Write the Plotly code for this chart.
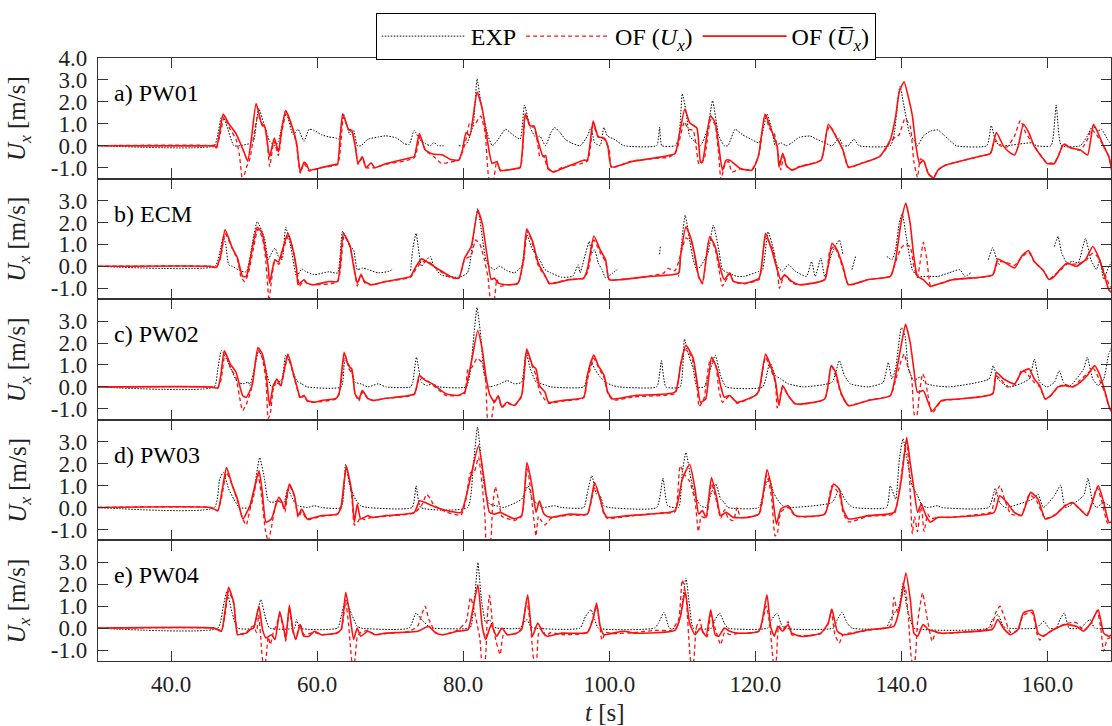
import plotly.graph_objects as go
from plotly.subplots import make_subplots

GAP = None  # break in measured record

# ---------------- panel a) PW01 ----------------
A_EXP = [(30,0),(45.9,0),(46.4,0.5),(46.9,1.3),(47.2,1.3),(48.6,0.0),(49.4,0.0),(50.8,0.1),(51.3,0.2),(52.0,1.7),(52.8,0.9),(53.5,0.2),(54.2,0.0),(54.7,0.2),(55.7,1.6),(56.7,0.5),(57.4,0.75),(58.2,0.2),(58.9,0.75),(59.6,0.7),(60.6,0.5),(61.6,0.4),(62.6,0.35),(63.0,0.3),(63.6,1.45),(64.5,0.5),(65.0,0.7),(65.5,0.0),(66.0,0.0),(67.0,0.3),(68.4,0.4),(69.4,0.45),(70.9,0.35),(71.9,0.1),(72.6,0.05),(73.3,0.7),(74.0,0.3),(74.8,0.1),(75.5,0.0),(76.0,0.15),(76.5,0.0),(77.3,0.0),GAP,(79.4,0.0),(80.2,0.0),(80.65,0.2),(81.4,1.0),(81.9,3.05),(82.4,2.0),(83.35,0.5),(84.0,0.0),(84.8,0.3),(85.8,0.75),(86.8,0.5),(87.8,0.3),(88.4,1.85),(89.2,0.8),(90.0,0.35),(90.5,0.44),(91.27,0.0),(92.02,0.6),(92.52,0.83),(93.27,0.6),(94.02,0.28),(94.77,0.13),(96.01,0.0),(97.01,0.44),(97.51,0.83),(98.01,0.13),(98.76,0.0),(99.26,0.83),(99.76,0.44),(100.76,0.28),(102.0,0.0),(106.5,0.0),(106.75,0.4),(106.9,0.85),(107.2,0.0),(109.0,0.0),(109.5,0.3),(109.75,1.2),(110.0,2.37),(110.5,1.6),(111.0,0.45),(112.0,0.1),(112.5,0.0),(113.5,0.8),(114.15,2.05),(115.0,0.45),(115.75,0.0),(116.25,0.0),(117.24,0.75),(118.24,0.5),(119.49,0.28),(120.49,0.13),(120.99,0.6),(121.6,1.45),(122.24,0.75),(122.74,0.0),(123.5,0.13),(124.24,0.0),(125.0,0.13),(126.0,0.38),(127.5,0.44),(128.5,0.28),(129.5,0.13),(130.5,0.0),(131.5,0.35),(132.0,0.0),(132.7,0.0),(133.5,0.3),(134.2,0.0),(138.5,0.0),(139.0,0.5),(139.8,2.7),(140.5,1.55),(141.2,0.45),(141.7,0.28),(142.2,0.0),(143.0,0.44),(144.0,0.67),(145.0,0.72),(145.7,0.52),(146.5,0.28),(147.5,0.0),(151.7,0.0),(152.3,0.92),(153.0,0.13),(154.0,0.0),(157.9,0.13),(158.5,0.0),(160.5,0.0),(161.2,1.86),(161.9,0.0),(164.5,0.0),(165.45,0.44),(166.2,0.9),(166.9,0.67),(167.4,0.75),(168.2,0.3),(168.8,0.0)]
A_UX = [(30,0),(45.4,0),(46.2,-0.1),(46.7,0.5),(47.3,1.3),(48.0,0.8),(48.9,0.3),(49.35,-0.4),(49.8,-1.6),(50.3,-1.0),(50.8,-0.6),(51.3,0.4),(51.9,1.4),(52.5,1.0),(53.0,0.7),(53.5,-0.95),(54.1,0.2),(54.7,-0.45),(55.2,0.7),(55.8,1.5),(56.7,0.7),(57.2,0.0),(57.7,-1.25),(58.2,-0.8),(58.9,-1.15),(60.6,-1.0),(62.8,-0.85),(63.6,1.3),(64.3,0.75),(64.8,0.6),(65.3,-0.1),(65.6,-0.85),(66.2,-0.55),(66.7,-1.0),(67.9,-1.0),(69.4,-0.85),(73.3,-0.55),(74.1,0.45),(74.8,-0.2),(76.0,-0.5),(77.0,-0.8),(78.2,-0.75),(79.4,-0.65),(79.9,-0.3),(80.4,0.3),(80.9,1.05),(81.4,0.9),(82.4,1.35),(83.0,0.6),(83.6,-1.6),(84.1,-1.6),(84.6,-0.7),(85.1,-1.15),(86.0,-1.1),(87.8,-1.0),(88.5,1.4),(89.2,0.85),(89.7,0.85),(90.2,0.1),(90.5,-0.5),(91.0,-0.45),(91.6,-1.05),(92.3,-1.2),(93.5,-1.0),(97.0,-0.7),(97.8,0.95),(98.5,0.4),(99.3,0.3),(100.0,-0.2),(100.3,-1.0),(103,-0.7),(107.5,-0.55),(108.0,-0.55),(109.0,-0.35),(109.5,0.1),(110.3,1.1),(110.8,0.75),(111.5,0.7),(112.3,-0.85),(113.0,-0.6),(113.9,1.2),(114.5,0.95),(115.0,-0.5),(115.3,-1.55),(115.8,-0.9),(116.3,-0.7),(116.8,-1.2),(118.0,-1.05),(119.5,-1.1),(120.5,-0.4),(121.3,1.4),(122.0,0.75),(122.6,0.55),(123.1,-0.3),(123.5,-1.1),(123.9,-0.4),(124.3,-0.95),(125,-1.1),(126,-0.95),(129,-0.65),(129.7,0.5),(130.2,0.9),(130.8,0.6),(132.0,-0.2),(132.75,-1.0),(134.5,-0.8),(137.0,-0.5),(138.0,-0.1),(138.5,0.2),(139.2,0.4),(139.7,0.5),(140.5,1.25),(141.2,0.9),(141.7,-0.7),(142.2,-1.45),(142.6,-0.6),(143.1,-0.7),(143.7,-1.3),(144.4,-1.45),(145.0,-1.1),(146,-0.9),(150.5,-0.5),(152.2,-0.35),(152.8,0.3),(153.5,0.0),(154.5,-0.05),(155.5,0.45),(156.3,1.15),(157.0,0.6),(158.2,0.0),(159.2,-0.5),(160.0,-0.8),(161.0,-0.75),(161.5,-0.45),(162.2,0.1),(163.2,-0.1),(164.5,-0.2),(165.5,0.3),(166.0,0.75),(166.7,0.5),(167.7,0.0),(168.4,-0.5),(168.8,-1.0)]
A_UXM = [(30,0),(45.4,0),(45.9,0.02),(46.2,-0.1),(46.6,0.5),(47.15,1.44),(47.9,1.0),(48.9,0.55),(50.0,-0.3),(50.5,-0.7),(51.0,0.3),(51.65,1.92),(52.5,0.9),(52.8,0.9),(53.5,-0.5),(54.14,0.35),(54.7,-0.27),(55.1,0.6),(55.7,1.6),(56.7,0.75),(57.2,0.1),(57.7,-1.2),(58.2,-0.75),(58.55,-0.85),(58.9,-1.1),(59.6,-1.08),(60.6,-1.0),(62.6,-0.85),(62.8,-0.85),(63.5,1.45),(64.3,0.75),(64.75,0.7),(65.2,0.0),(65.6,-0.8),(66.2,-0.5),(66.7,-1.0),(67.4,-0.78),(67.9,-1.0),(69.4,-0.82),(72.8,-0.55),(73.3,-0.5),(74.0,0.55),(74.8,-0.18),(75.8,-0.38),(77.2,-0.42),(78.2,-0.62),(79.4,-0.66),(79.9,-0.2),(80.4,0.6),(80.9,0.45),(81.9,2.45),(82.6,1.7),(83.3,0.27),(83.95,-0.8),(84.6,-0.73),(85.1,-1.12),(86.0,-1.12),(87.0,-1.05),(87.8,-1.0),(88.5,1.45),(89.2,0.9),(89.7,0.9),(90.2,0.28),(90.95,-0.5),(91.3,-0.45),(91.6,-1.0),(92.3,-1.2),(93.5,-1.05),(96.5,-0.66),(97.0,-0.66),(97.8,1.12),(98.5,0.4),(99.3,0.35),(99.8,0.0),(100.3,-0.97),(103.0,-0.73),(109.0,-0.36),(109.25,-0.1),(110.35,1.67),(111.0,1.05),(112.0,0.8),(112.5,-0.75),(112.75,-0.75),(113.85,1.36),(114.5,1.05),(115.0,-0.03),(115.5,-1.12),(116.0,-0.66),(116.5,-0.66),(118.0,-1.05),(119.5,-1.12),(120.25,-0.66),(120.5,-0.35),(121.34,1.44),(122.0,0.9),(122.5,0.44),(123.0,-0.03),(123.25,-0.97),(123.75,-0.35),(124.25,-0.9),(125.0,-1.12),(126.0,-0.97),(129.0,-0.66),(130.0,0.98),(131.0,0.44),(132.0,-0.2),(132.75,-0.97),(134.5,-0.81),(137.0,-0.5),(138.0,-0.03),(138.5,0.28),(139.2,1.3),(139.7,2.45),(140.37,2.92),(141.0,2.15),(141.5,1.37),(142.0,-0.03),(142.5,-0.81),(143.0,-0.66),(143.7,-1.28),(144.4,-1.48),(145.0,-1.12),(146.0,-0.89),(150.5,-0.5),(152.2,-0.35),(153.0,0.6),(154.0,-0.03),(155.0,-0.35),(155.5,-0.42),(156.0,-0.03),(156.7,0.98),(157.45,0.6),(158.2,-0.03),(159.2,-0.5),(159.95,-0.81),(160.95,-0.81),(161.45,-0.5),(162.2,0.05),(163.2,-0.1),(164.5,-0.19),(165.5,-0.42),(166.3,0.98),(166.9,0.6),(167.7,-0.03),(168.4,-0.5),(168.8,-1.12)]

# ---------------- panel b) ECM ----------------
B_EXP = [(30,0),(46.0,0),(46.66,0.6),(47.15,1.36),(47.5,0.98),(47.9,0.07),(48.4,0.0),(49.4,-0.2),(50.3,-0.25),(51.3,1.36),(51.8,2.04),(52.8,1.28),(53.3,0.3),(53.75,0.6),(54.24,0.83),(54.7,0.45),(55.2,0.3),(55.7,1.78),(56.4,0.9),(57.2,-0.46),(57.9,-0.12),(58.4,-0.23),(59.6,-0.38),(61.6,-0.25),(62.8,-0.3),(63.5,1.6),(64.5,0.9),(65.0,0.75),(65.5,-0.15),(66.2,-0.08),(67.0,-0.15),(68.4,-0.3),(69.9,-0.22),(70.4,-0.12),GAP,(72.8,-0.2),(73.1,0.8),(73.56,1.5),(74.3,0.0),(75.0,0.3),(75.5,0.45),(76.0,0.0),(77.0,-0.4),(79.4,-0.5),(80.6,-0.3),(81.4,1.36),(82.0,2.64),(82.6,1.36),(83.1,0.3),(83.6,0.0),(84.3,-0.15),(85.0,0.0),(86.0,-0.2),(87.0,-0.3),(88.0,0.0),(88.7,1.45),(89.5,0.75),(90.45,0.3),(91.2,-0.15),(92.0,-0.3),(93.5,-0.5),(95.0,-0.45),(95.76,0.07),(96.0,-0.3),(97.26,1.13),(97.6,0.6),(98.0,0.75),(98.5,0.15),(99.0,-0.15),(99.5,-0.53),(100.5,-0.3),(101.1,-0.15),GAP,(106.9,0.55),(107.0,0.95),GAP,(109.5,-0.46),(110.0,1.36),(110.4,2.33),(111.0,1.2),(111.5,0.3),(112.0,-0.15),(112.5,0.0),(113.5,0.6),(114.25,1.88),(115.0,0.75),(115.5,-0.15),(116.25,-0.3),(117.5,-0.46),(118.5,-0.46),(120.5,-0.23),(121.0,-0.15),(121.74,1.58),(122.5,0.75),(123.0,0.0),(123.74,-0.23),(124.5,0.08),(125.5,-0.23),(127.0,-0.46),(127.7,0.22),(128.2,-0.46),(128.98,0.38),(129.5,-0.46),(130.5,0.6),(131.5,1.2),(131.98,0.55),GAP,(133.23,-0.15),(133.73,0.45),GAP,(138.0,0.45),(138.7,0.3),(139.2,0.75),(139.7,1.96),(140.1,2.42),(140.7,1.28),(141.5,-0.15),(142.2,-0.46),(143.5,-0.46),(145.0,-0.46),(146.5,-0.3),(148.0,-0.15),(148.7,-0.46),(149.5,-0.3),GAP,(151.9,0.3),(152.5,0.85),(153.0,0.38),(153.5,0.0),GAP,(160.95,0.9),(161.45,1.36),(161.95,0.6),(162.7,0.15),(163.45,0.23),(164.2,0.15),(165.2,1.27),(165.95,0.3),(166.7,-0.15),(167.2,0.3),(167.7,-0.6),(168.4,0.0),(168.8,0.2)]
B_UX = [(30,0),(45.4,0),(46.2,-0.05),(46.8,0.4),(47.4,1.5),(48.4,0.8),(49.1,0.3),(49.6,-0.5),(50.1,-0.7),(50.6,-0.3),(51.1,0.5),(51.9,1.7),(52.5,1.3),(52.9,0.5),(53.26,-1.0),(53.4,-1.6),(53.7,-0.8),(54.2,0.2),(54.8,0.1),(55.4,0.8),(56.1,1.4),(56.8,0.6),(57.3,-0.3),(57.6,-0.9),(58.2,-0.65),(58.7,-0.8),(59.6,-0.84),(62.8,-0.7),(63.7,1.4),(64.5,0.9),(65.1,-0.1),(65.5,-0.9),(66.0,-0.35),(66.5,-0.75),(67.4,-0.85),(69.4,-0.7),(72.8,-0.5),(73.4,-0.2),(74.3,0.2),(75.3,0.2),(76.7,-0.2),(78.2,-0.5),(79.4,-0.55),(80.2,0.3),(81.1,0.5),(81.7,1.2),(82.3,1.0),(82.9,0.3),(83.4,-0.5),(83.8,-1.6),(84.2,-1.6),(84.6,-0.6),(85.0,-0.9),(86.0,-0.85),(87.5,-0.8),(88.3,0.3),(88.8,1.6),(89.5,1.0),(90.2,0.1),(90.5,-0.1),(91.3,-0.5),(91.8,-0.8),(92.5,-0.75),(94.5,-0.6),(96.5,-0.55),(97.1,-0.2),(97.9,1.2),(98.8,0.6),(99.5,0.2),(100.0,-0.6),(101.5,-0.6),(105.5,-0.45),(107.5,-0.3),(108.0,-0.1),(109.0,-0.2),(109.5,0.2),(110.5,1.3),(111.25,1.1),(111.75,0.3),(112.25,-0.5),(112.75,-0.8),(113.75,1.3),(114.5,0.8),(115.1,-0.3),(115.5,-0.9),(116.5,-0.35),(117.0,-0.7),(118.5,-0.8),(120.5,-0.6),(121.4,1.35),(122.24,0.9),(122.99,-0.1),(123.3,-1.0),(124.0,-0.4),(125.0,-0.75),(126.0,-0.85),(129.5,-0.6),(130.2,0.7),(130.8,0.9),(131.5,0.4),(132.1,-0.2),(132.75,-0.85),(135.5,-0.6),(138.5,-0.45),(139.2,0.2),(139.9,0.8),(140.5,1.0),(141.2,0.9),(141.7,0.0),(142.2,-0.5),(142.7,0.5),(143.0,1.1),(143.5,0.3),(144.0,-0.9),(144.7,-0.85),(145.5,-0.75),(147,-0.6),(152.5,-0.4),(153.2,0.2),(154.2,0.2),(155.5,0.05),(156.45,0.4),(157.4,0.65),(158.2,0.2),(159.45,-0.2),(160.2,-0.6),(160.95,-0.4),(161.7,-0.2),(162.7,0.1),(163.95,0.1),(165.2,0.25),(166.2,0.6),(166.95,0.4),(167.7,-0.2),(168.4,-0.8),(168.8,-1.0)]
B_UXM = [(30,0),(45.4,0),(46.2,-0.05),(46.8,0.5),(47.4,1.66),(48.4,0.83),(49.1,0.38),(49.8,-0.46),(50.3,-0.46),(51.0,0.6),(51.8,1.78),(52.5,1.5),(52.8,0.95),(53.3,0.0),(53.5,-0.77),(54.2,0.3),(54.7,0.2),(55.3,0.8),(56.0,1.5),(56.7,0.75),(57.2,-0.15),(57.4,-0.84),(58.2,-0.61),(58.6,-0.77),(59.6,-0.84),(61.6,-0.69),(62.8,-0.69),(63.6,1.5),(64.5,0.95),(65.0,0.0),(65.5,-0.77),(66.0,-0.39),(66.5,-0.69),(67.4,-0.84),(69.4,-0.69),(72.8,-0.46),(73.3,-0.15),(74.3,0.34),(75.3,0.15),(76.7,-0.15),(78.2,-0.45),(79.4,-0.54),(80.2,0.38),(81.1,0.9),(82.0,2.56),(82.6,1.96),(83.35,0.33),(83.84,-0.6),(84.3,-0.54),(84.8,-0.77),(86.0,-0.84),(87.5,-0.77),(88.25,0.3),(88.7,1.7),(89.5,1.14),(90.2,0.23),(90.5,0.0),(91.27,-0.46),(91.77,-0.77),(92.5,-0.77),(94.5,-0.61),(96.5,-0.54),(97.0,-0.15),(97.9,1.38),(98.76,0.75),(99.5,0.3),(100.0,-0.61),(101.5,-0.61),(105.5,-0.46),(109.5,-0.31),(109.75,0.45),(110.5,1.8),(111.25,1.2),(111.75,0.45),(112.25,-0.46),(112.75,-0.77),(113.75,1.35),(114.5,0.9),(115.25,-0.15),(115.75,-0.61),(116.5,-0.3),(117.0,-0.69),(118.5,-0.77),(120.5,-0.55),(121.4,1.5),(122.24,0.75),(122.99,-0.15),(123.5,-0.61),(124.0,-0.39),(125.0,-0.69),(126.0,-0.84),(129.5,-0.61),(130.5,1.05),(131.2,0.75),(132.0,0.0),(132.75,-0.84),(135.5,-0.6),(138.5,-0.46),(139.2,0.3),(140.0,2.1),(140.6,2.87),(141.2,1.96),(141.7,0.45),(142.2,-0.46),(143.0,-0.61),(144.0,-0.92),(144.7,-0.84),(145.5,-0.77),(147.0,-0.61),(152.5,-0.39),(153.2,0.33),(154.2,0.17),(155.5,-0.08),(156.45,0.45),(157.4,0.72),(158.2,0.22),(159.45,-0.2),(160.2,-0.6),(160.95,-0.46),(161.7,-0.15),(162.7,0.15),(163.95,0.0),(165.2,0.3),(166.2,0.9),(166.95,0.45),(167.7,-0.3),(168.4,-1.07),(168.8,-1.2)]

# ---------------- panel c) PW02 ----------------
C_EXP = [(30,0),(45.9,0),(46.4,0.82),(46.9,1.65),(47.6,1.27),(48.4,0.67),(49.1,0.21),(49.8,0.14),(50.6,0.21),(50.8,0.06),(51.4,0.82),(52.0,1.65),(52.8,1.05),(53.3,0.36),(53.75,0.0),(54.5,0.14),(55.2,0.36),(55.7,1.45),(56.4,1.0),(57.2,0.29),(57.9,0.14),(58.65,0.0),(63.3,0.0),(63.8,1.2),(64.3,1.05),(64.75,0.67),(65.2,0.21),(66.0,0.14),(66.95,0.0),(68.4,0.14),(69.4,0.0),(72.8,0.0),(73.1,0.21),(73.6,1.35),(74.3,0.21),(75.0,0.06),(75.8,0.14),(76.7,0.0),(80.4,0.0),(80.9,0.52),(81.5,2.48),(81.9,3.62),(82.4,2.33),(82.9,0.52),(83.6,0.0),(84.3,0.06),(85.1,0.14),(86.0,0.29),(87.0,0.14),(88.0,0.21),(88.6,1.58),(89.2,0.82),(90.0,0.21),(90.7,0.14),(91.5,0.06),(92.0,0.0),(96.5,0.0),(97.0,0.52),(97.5,1.2),(98.0,0.82),(98.76,0.45),(99.5,0.21),(100.5,0.06),(101.3,0.0),(106.5,0.0),(106.9,0.6),(107.15,1.2),(107.75,0.0),(109.7,0.0),(110.3,2.18),(110.75,1.58),(111.5,0.82),(112.0,0.0),(113.0,0.0),(114.0,0.97),(114.5,1.45),(115.25,0.52),(116.0,0.0),(121.0,0.0),(121.99,1.12),(122.74,0.52),(123.5,0.36),(124.5,0.14),(125.5,0.06),(126.5,0.0),(130.5,0.21),(131.5,1.2),(132.2,0.52),(133.0,0.14),(134.0,0.06),(135.5,0.0),(137.5,0.2),(138.2,1.12),(138.7,0.36),(139.2,0.82),(140.0,2.7),(140.5,2.33),(140.97,0.82),(141.7,0.29),(142.5,0.44),(143.5,0.14),(144.5,0.06),(146.5,0.0),(152.0,0.36),(152.56,0.97),(153.2,0.36),(153.96,0.14),(154.96,0.0),(157.5,0.36),(158.2,1.27),(158.95,0.21),(159.95,0.0),(160.95,0.21),(161.6,0.74),(162.2,0.21),(162.95,0.0),(164.95,0.82),(165.45,1.35),(166.2,0.36),(166.95,0.06),(167.7,0.36),(168.4,1.5),(168.8,1.8)]
C_UX = [(30,0),(45.4,0),(46.4,-0.05),(46.9,0.4),(47.4,1.55),(48.1,0.9),(48.9,0.4),(49.4,-0.5),(49.8,-1.08),(50.3,-0.8),(51.0,-0.1),(51.9,1.7),(52.5,1.3),(53.0,0.3),(53.3,-1.45),(53.6,-1.2),(54.0,-0.1),(54.5,0.3),(55.0,0.0),(56.0,1.4),(56.7,0.6),(57.2,0.0),(57.7,-0.55),(58.2,-0.4),(58.65,-0.65),(59.6,-0.7),(62.6,-0.55),(63.05,-0.3),(63.8,1.45),(64.4,0.8),(64.8,0.6),(65.2,-0.3),(65.7,-0.65),(66.2,-0.25),(67.0,-0.55),(67.7,-0.62),(69.4,-0.52),(73.3,-0.35),(74.0,0.4),(74.8,0.35),(75.8,0.1),(76.7,-0.15),(77.7,-0.4),(79.2,-0.4),(80.2,-0.3),(80.65,0.8),(81.2,0.9),(81.9,1.3),(82.6,1.1),(83.1,0.2),(83.4,-1.55),(83.8,-1.55),(84.3,-0.6),(84.8,-0.45),(85.3,-0.95),(86.0,-0.75),(87.0,-0.85),(88.0,-0.45),(88.7,1.6),(89.5,0.9),(90.0,0.5),(90.45,-0.2),(91.0,-0.5),(91.7,-0.75),(93.5,-0.65),(96.5,-0.5),(97.0,0.3),(97.9,1.3),(98.5,0.9),(99.3,0.4),(99.8,-0.3),(100.5,-0.6),(103.5,-0.45),(109.0,-0.3),(109.5,0.3),(109.75,1.0),(110.3,1.7),(110.9,1.6),(111.5,1.1),(112.0,0.1),(112.3,-0.9),(113.0,-0.5),(113.8,1.2),(114.5,1.1),(115.0,-0.1),(115.5,-0.7),(116.5,-0.4),(117.5,-0.75),(120.0,-0.4),(120.5,-0.2),(121.4,1.35),(122.0,0.9),(122.74,0.2),(123.0,-0.95),(123.74,0.0),(124.5,-0.4),(125.5,-0.8),(129.5,-0.55),(130.4,1.0),(131.0,0.5),(131.7,-0.3),(132.75,-0.85),(135.5,-0.6),(138.5,-0.4),(139.2,0.3),(139.97,1.2),(140.4,1.5),(140.8,1.0),(141.4,0.4),(141.8,-1.3),(142.1,-1.3),(142.5,-0.2),(142.9,0.6),(143.2,0.4),(143.7,-0.5),(144.2,-1.2),(145.5,-0.65),(148.0,-0.55),(152.5,-0.3),(152.9,0.5),(153.6,0.35),(154.5,0.0),(155.5,0.1),(156.0,0.4),(156.5,0.8),(157.2,0.6),(158.2,0.2),(158.95,0.0),(159.7,-0.55),(160.45,-0.4),(161.45,0.0),(162.45,0.1),(163.45,0.0),(164.45,0.3),(165.45,0.6),(166.3,0.85),(167.0,0.4),(167.9,-0.3),(168.4,-0.9),(168.8,-1.2)]
C_UXM = [(30,0),(45.4,0),(46.4,-0.05),(46.8,0.5),(47.3,1.65),(48.1,1.05),(48.9,0.67),(49.8,-0.39),(50.3,-0.47),(51.1,0.06),(51.9,1.8),(52.5,1.5),(53.0,0.67),(53.5,-0.85),(54.0,0.06),(54.5,0.36),(55.0,0.06),(56.0,1.5),(56.7,0.67),(57.2,0.06),(57.7,-0.47),(58.2,-0.39),(58.65,-0.62),(59.6,-0.7),(60.6,-0.62),(62.6,-0.52),(63.05,-0.24),(63.7,1.58),(64.3,0.97),(64.75,0.82),(65.2,-0.32),(65.7,-0.55),(66.2,-0.17),(66.95,-0.52),(67.7,-0.62),(69.4,-0.52),(73.3,-0.32),(74.0,0.52),(74.8,0.3),(75.8,0.14),(76.7,-0.09),(77.7,-0.32),(79.2,-0.39),(80.2,-0.24),(80.65,0.36),(81.2,1.27),(82.0,2.56),(82.6,1.73),(83.1,0.52),(83.6,-0.32),(84.3,-0.7),(84.8,-0.39),(85.3,-0.92),(86.0,-0.7),(87.0,-0.85),(88.0,-0.39),(88.7,1.73),(89.5,0.97),(89.97,0.82),(90.45,0.06),(91.2,-0.24),(91.7,-0.7),(93.5,-0.62),(96.5,-0.47),(97.0,0.52),(97.9,1.45),(98.5,0.97),(99.3,0.52),(99.8,-0.24),(100.5,-0.55),(103.5,-0.39),(109.0,-0.24),(109.75,0.97),(110.5,1.9),(111.5,1.3),(112.0,0.29),(112.5,-0.7),(113.2,-0.55),(114.0,1.35),(114.75,0.82),(115.25,0.06),(115.75,-0.47),(116.5,-0.39),(117.5,-0.7),(120.0,-0.39),(120.5,-0.17),(121.4,1.5),(122.0,1.05),(122.74,0.29),(123.24,-0.85),(123.74,0.06),(124.5,-0.39),(125.5,-0.77),(129.5,-0.55),(130.4,0.97),(131.0,0.67),(131.7,-0.24),(132.75,-0.85),(135.5,-0.62),(138.5,-0.39),(139.2,0.52),(139.97,1.88),(140.57,2.86),(141.2,2.03),(141.7,0.82),(142.2,-0.24),(143.0,-0.17),(144.2,-1.1),(145.5,-0.62),(148.0,-0.55),(152.5,-0.32),(153.0,0.67),(154.0,0.36),(155.5,0.14),(156.45,0.67),(157.5,0.82),(158.2,0.36),(158.95,0.06),(159.7,-0.55),(160.45,-0.39),(161.45,0.0),(162.45,0.06),(163.45,0.0),(164.45,0.2),(165.45,0.52),(166.45,0.97),(167.2,0.52),(167.9,-0.24),(168.4,-0.85),(168.8,-1.15)]

# ---------------- panel d) PW03 ----------------
D_EXP = [(30,0),(45.93,0),(46.66,1.29),(47.15,1.6),(47.9,0.84),(48.6,0.38),(49.35,0.0),(50.8,0.0),(51.4,0.84),(52.14,2.28),(52.8,1.29),(53.3,0.31),(53.75,0.23),(54.73,0.31),(55.47,0.23),(55.96,0.84),(56.44,0.54),(56.93,0.23),(57.42,0.08),(58.65,0.0),(59.6,0.08),(60.6,0.0),(63.3,0.0),(63.9,1.97),(64.5,0.99),(65.24,0.38),(65.97,0.08),(66.95,0.0),(73.0,0.0),(73.56,0.99),(74.19,0.0),(80.6,0.0),(81.4,2.0),(81.97,3.67),(82.46,2.2),(82.95,0.84),(83.6,0.16),(84.57,0.08),(85.55,0.0),(88.0,0.38),(88.88,0.99),(89.48,0.38),(90.2,0.16),(90.95,0.0),(92.5,0.08),(93.5,0.0),(96.51,0.0),(97.01,0.69),(97.61,1.45),(98.26,0.61),(98.76,0.54),(99.26,0.08),(100.01,0.0),(106.5,0.0),(107.35,1.34),(108.0,0.08),(109.5,0.0),(110.0,1.6),(110.5,2.51),(111.1,1.45),(111.75,0.54),(112.5,0.08),(113.25,0.0),(114.0,0.69),(114.6,1.07),(115.25,0.38),(115.75,0.23),(116.25,0.0),(120.49,0.0),(121.24,0.84),(121.89,1.37),(122.49,0.69),(122.99,0.38),(123.74,0.08),(124.5,0.0),(130.5,0.23),(131.48,0.84),(132.23,0.38),(132.98,0.08),(133.5,0.0),(137.97,0.0),(138.47,0.99),(139.22,0.38),(139.72,2.2),(140.22,3.14),(140.72,2.3),(141.47,0.99),(142.22,0.54),(142.72,0.16),(143.47,0.0),(144.97,0.08),(145.5,0.0),(151.96,0.0),(152.86,0.87),(153.46,0.23),(154.21,0.0),(157.95,0.38),(158.7,0.61),(159.45,0.0),(160.95,0.54),(161.8,1.02),(162.45,0.0),(164.95,0.54),(165.55,1.34),(166.2,0.23),(166.7,0.0),(167.7,0.23),(168.8,0.0)]
D_UX = [(30,0),(45.4,0),(46.4,-0.14),(47.0,0.6),(47.6,1.6),(48.4,1.0),(49.1,0.3),(49.8,-0.5),(50.3,-0.8),(50.8,-0.1),(51.3,0.5),(51.9,1.5),(52.4,0.5),(52.9,-1.0),(53.3,-1.55),(53.75,-0.9),(54.5,0.3),(55.2,0.2),(55.6,-0.2),(56.2,1.0),(56.9,0.5),(57.4,-0.45),(57.9,-0.2),(58.65,-0.55),(60.6,-0.4),(62.8,-0.3),(63.3,0.0),(64.0,1.8),(64.75,0.5),(65.1,-0.8),(65.5,-0.7),(65.97,-0.45),(66.5,-0.55),(67.44,-0.45),(69.4,-0.4),(73.3,-0.25),(74.3,0.1),(75.0,0.6),(75.5,0.4),(76.0,0.1),(77.7,-0.2),(79.7,-0.35),(80.4,0.4),(81.0,1.6),(81.5,1.6),(82.1,2.3),(82.6,1.0),(83.0,-0.5),(83.2,-1.6),(83.7,-1.6),(84.0,-0.1),(84.4,0.95),(84.8,0.4),(85.3,-0.4),(86.0,-0.5),(87.0,-0.6),(88.0,-0.4),(88.74,1.9),(89.3,0.6),(89.7,-0.6),(89.97,-1.3),(90.3,-0.4),(90.7,-0.6),(91.2,-0.8),(92.0,-0.5),(94.5,-0.35),(97.0,-0.3),(98.0,0.9),(98.6,0.6),(99.26,-0.3),(99.76,-0.5),(102.5,-0.4),(105.5,-0.3),(107.0,-0.25),(109.0,-0.2),(109.7,1.9),(110.3,1.5),(111.0,1.2),(111.75,0.3),(112.2,-1.1),(112.6,-0.4),(113.25,-0.5),(114.0,1.1),(114.75,0.2),(115.25,-0.5),(115.8,-0.1),(116.3,-0.5),(117.0,-0.6),(117.5,0.0),(118.0,-0.45),(120.5,-0.3),(121.6,1.5),(122.24,0.4),(122.7,-1.3),(123.0,-1.2),(123.5,-0.2),(124.5,0.0),(125.5,-0.4),(129.5,-0.3),(130.5,1.0),(131.5,0.6),(132.0,-0.2),(132.75,-0.65),(135.5,-0.4),(139.0,-0.3),(139.6,0.5),(140.2,2.0),(140.72,3.0),(141.1,1.5),(141.5,-1.2),(141.8,-0.4),(142.2,-1.1),(142.7,0.2),(143.1,-1.1),(143.6,-0.3),(144.0,-0.5),(145.0,-0.45),(146.5,-0.45),(151.0,-0.3),(152.3,-0.2),(152.9,0.6),(153.5,1.0),(154.2,0.3),(155.0,-0.3),(156.45,-0.35),(157.5,0.6),(158.5,0.3),(159.7,-0.5),(160.95,-0.35),(162.45,0.1),(163.45,0.2),(164.45,-0.1),(165.45,-0.3),(166.8,0.9),(167.5,0.2),(168.2,-0.7),(168.8,-0.8)]
D_UXM = [(30,0),(45.4,0),(46.4,-0.14),(47.0,0.8),(47.6,1.82),(48.4,0.99),(49.1,0.38),(49.84,-0.52),(50.8,0.08),(52.04,1.67),(52.5,0.69),(53.0,-0.67),(53.75,-0.52),(54.73,0.46),(55.2,0.23),(55.5,-0.07),(56.2,1.07),(56.9,0.54),(57.4,-0.37),(57.9,-0.07),(58.65,-0.52),(60.6,-0.37),(62.8,-0.3),(63.3,0.08),(64.0,1.89),(64.75,0.69),(65.1,-0.67),(65.5,0.16),(65.97,-0.52),(66.95,-0.37),(67.44,-0.45),(69.4,-0.37),(73.3,-0.22),(74.04,0.31),(74.8,0.23),(75.76,0.08),(77.7,-0.14),(79.7,-0.22),(80.65,0.84),(82.1,2.81),(82.86,1.29),(83.6,-0.22),(84.3,-0.3),(85.06,-0.22),(86.0,-0.37),(87.0,-0.52),(88.0,-0.37),(88.74,2.05),(89.5,0.84),(89.97,-0.22),(90.45,0.31),(90.95,-0.22),(91.3,-0.37),(92.0,-0.45),(94.5,-0.3),(97.0,-0.3),(98.0,1.14),(98.76,0.38),(99.26,-0.22),(99.76,-0.45),(102.5,-0.37),(105.5,-0.3),(109.0,-0.14),(110.0,1.29),(111.0,1.97),(111.75,0.84),(112.25,-0.3),(112.75,-0.14),(113.25,-0.45),(114.0,1.37),(114.75,0.38),(115.25,-0.37),(116.0,-0.22),(117.0,-0.45),(119.0,-0.45),(120.5,-0.3),(121.6,1.72),(122.24,0.84),(122.89,-0.75),(123.5,-0.07),(124.5,0.08),(125.5,-0.37),(129.5,-0.3),(130.7,1.07),(131.5,0.84),(132.0,-0.07),(132.75,-0.52),(135.5,-0.37),(139.0,-0.22),(140.0,1.29),(140.72,3.19),(141.22,2.0),(141.72,0.84),(142.22,-0.22),(142.72,0.16),(143.37,-0.37),(143.97,-0.67),(145.0,-0.45),(146.5,-0.45),(152.7,-0.22),(153.46,0.54),(154.46,0.23),(155.46,-0.22),(156.45,-0.37),(157.7,0.69),(158.7,0.38),(159.7,-0.52),(160.95,-0.37),(162.45,0.08),(163.45,0.23),(164.45,-0.07),(165.45,-0.37),(166.94,1.0),(167.7,0.23),(168.4,-0.67),(168.8,-0.67)]

# ---------------- panel e) PW04 ----------------
E_EXP = [(30,0),(46.4,0),(47.15,0.99),(47.64,1.68),(48.37,0.69),(49.11,0.0),(51.3,0.0),(51.8,0.69),(52.29,1.3),(53.0,0.39),(53.5,0.0),(56.9,0.0),(57.18,0.39),(57.67,0.0),(62.8,0.0),(63.3,0.54),(63.92,1.3),(64.75,0.61),(65.49,0.08),(66.0,0.0),(72.58,0.0),(73.56,0.69),(74.29,0.39),(75.27,0.08),(75.8,0.0),(80.9,0.0),(81.14,0.15),(81.63,1.6),(82.02,2.99),(82.5,1.3),(83.1,0.23),(83.59,0.39),(84.08,0.08),(84.6,0.0),(87.8,0.0),(88.25,0.23),(88.74,0.39),(89.23,0.08),(89.8,0.0),(96.0,0.0),(96.76,0.54),(97.51,0.84),(98.0,0.39),(98.51,0.0),(106.2,0.0),(106.75,0.23),(107.5,0.72),(108.25,0.0),(109.2,0.0),(109.75,0.54),(110.5,2.28),(111.0,0.99),(111.5,0.0),(114.0,0.0),(114.5,0.39),(115.1,0.69),(115.75,0.23),(116.25,0.0),(121.7,0.0),(122.24,0.39),(122.99,0.69),(123.49,0.23),(124.0,0.0),(130.7,0.0),(131.23,0.39),(131.88,0.72),(132.58,0.23),(133.23,0.0),(137.9,0.0),(138.47,0.39),(139.22,0.76),(139.72,0.99),(140.22,2.05),(140.72,0.99),(141.22,0.39),(141.72,0.0),(151.9,0.0),(152.46,0.39),(153.21,0.61),(153.96,0.08),(154.5,0.0),(158.5,0.0),(158.95,0.15),(159.55,0.31),(160.2,0.0),(161.2,0.0),(161.7,0.39),(162.3,0.69),(162.95,0.0),(164.6,0.0),(165.2,0.23),(165.85,0.39),(166.45,0.0),(168.8,0.0)]
E_UX = [(30,0),(45.9,0),(46.9,-0.1),(47.4,0.6),(47.88,1.7),(48.6,1.1),(49.1,-0.2),(49.84,-0.3),(50.33,-0.2),(50.82,0.0),(51.3,0.1),(51.7,-0.2),(52.0,0.6),(52.3,-0.5),(52.6,-1.55),(52.9,-1.55),(53.3,-0.4),(53.6,-0.75),(54.0,-0.2),(54.5,0.2),(54.9,0.6),(55.5,-0.2),(55.7,-0.6),(56.2,0.9),(56.7,-0.2),(57.1,-0.5),(57.7,0.2),(58.2,-0.3),(59.6,-0.2),(60.6,-0.3),(62.6,-0.25),(63.3,-0.1),(63.9,1.2),(64.3,0.2),(64.6,-1.0),(64.8,-1.55),(65.1,-1.55),(65.5,-0.4),(65.97,-0.2),(66.95,-0.1),(67.93,-0.3),(69.4,-0.25),(72.6,-0.15),(73.8,0.1),(74.3,0.6),(74.8,1.0),(75.3,0.4),(76.25,-0.2),(77.22,-0.3),(79.18,-0.1),(80.4,0.3),(81.0,1.4),(81.4,1.0),(81.9,0.2),(82.3,-0.5),(82.6,-1.55),(82.95,-1.55),(83.3,0.5),(83.6,1.5),(84.0,0.3),(84.5,-0.6),(85.06,-1.2),(85.5,-0.3),(86.04,-0.3),(87.27,-0.25),(88.0,0.0),(88.7,1.2),(89.2,0.2),(89.5,-1.0),(89.72,-1.55),(90.0,-1.55),(90.3,-0.3),(90.8,0.0),(91.3,-0.35),(92.0,-0.2),(93.5,-0.3),(97.0,-0.2),(97.8,0.5),(98.3,1.0),(98.7,0.1),(99.0,-0.55),(99.5,-0.2),(100.5,-0.25),(103.5,-0.2),(106.5,-0.1),(108.5,-0.1),(109.5,0.4),(110.0,2.2),(110.5,1.5),(110.9,-0.5),(111.2,-1.55),(111.5,-1.55),(111.9,0.0),(112.4,0.4),(112.8,-0.2),(113.4,-0.4),(113.9,0.6),(114.5,0.0),(115.25,-0.75),(115.8,-0.2),(116.5,-0.3),(117.5,-0.25),(120.5,-0.15),(121.5,1.0),(122.0,0.1),(122.3,-1.0),(122.5,-1.55),(122.8,-1.55),(123.2,0.1),(123.74,-0.1),(124.49,0.3),(124.99,-0.3),(126.48,-0.35),(128.98,-0.25),(129.98,0.2),(130.4,0.8),(130.9,-0.3),(131.5,-0.68),(132.0,-0.3),(133.5,-0.2),(135.48,-0.1),(138.5,0.1),(138.97,1.4),(139.5,0.7),(140.0,1.4),(140.5,1.9),(141.0,0.3),(141.3,-1.2),(141.5,-1.55),(141.8,-1.55),(142.2,0.2),(142.9,1.6),(143.5,0.5),(144.22,-0.6),(144.7,-0.2),(145.47,-0.25),(147.96,-0.2),(152.2,0.0),(152.9,0.7),(153.5,1.0),(154.2,0.4),(154.96,-0.2),(155.96,-0.1),(156.7,0.6),(157.9,0.7),(158.6,-0.3),(158.95,-0.55),(159.45,-0.35),(160.45,-0.15),(162.45,0.2),(163.95,0.25),(164.95,-0.1),(165.95,0.2),(166.8,0.8),(167.3,0.0),(167.69,-1.05),(168.2,-0.5),(168.8,-0.4)]
E_UXM = [(30,0),(45.9,0),(46.9,-0.14),(47.4,0.8),(47.88,1.86),(48.6,1.14),(49.1,-0.3),(49.84,-0.25),(50.33,-0.23),(50.82,-0.07),(51.3,0.0),(52.04,0.99),(52.53,-0.07),(53.0,-0.45),(53.75,-0.3),(54.24,-0.52),(54.88,0.76),(55.47,-0.07),(55.71,-0.52),(56.2,1.04),(56.69,-0.07),(57.08,-0.52),(57.67,0.16),(58.16,-0.37),(58.89,-0.37),(59.62,-0.14),(60.6,-0.3),(62.56,-0.23),(63.29,-0.07),(63.92,1.63),(64.51,0.54),(65.0,-0.52),(65.49,0.0),(65.97,-0.37),(66.95,-0.14),(67.93,-0.3),(69.4,-0.23),(73.8,-0.14),(75.27,0.08),(76.25,-0.23),(77.22,-0.3),(79.18,-0.14),(80.65,-0.07),(81.39,0.99),(82.02,1.98),(82.61,0.08),(83.1,-0.52),(83.84,0.16),(84.57,-0.37),(85.31,0.0),(86.04,-0.3),(87.27,-0.23),(88.0,-0.07),(88.83,1.52),(89.48,-0.37),(90.21,0.23),(90.95,-0.23),(91.5,-0.37),(93.5,-0.23),(97.0,-0.2),(97.76,0.39),(98.26,1.14),(98.76,0.08),(99.26,-0.3),(100.51,-0.23),(102.0,-0.14),(103.5,-0.23),(109.0,-0.1),(109.75,0.54),(110.4,1.67),(111.0,0.23),(111.75,-0.3),(112.5,0.0),(113.25,-0.37),(113.9,0.84),(114.5,-0.3),(115.0,-0.37),(115.75,0.0),(116.5,-0.14),(117.5,-0.23),(120.5,-0.14),(121.59,1.52),(122.09,0.08),(122.59,-0.37),(123.09,0.08),(123.74,-0.14),(124.49,0.16),(124.99,-0.23),(126.48,-0.38),(128.98,-0.23),(129.98,0.23),(130.48,0.87),(131.23,-0.14),(131.98,-0.3),(133.5,-0.23),(135.48,-0.07),(138.97,0.08),(139.72,0.84),(140.62,2.51),(141.22,1.3),(141.72,-0.23),(142.22,-0.37),(142.97,0.16),(143.72,-0.07),(144.47,-0.14),(145.47,-0.23),(147.96,-0.19),(152.46,-0.05),(153.21,0.39),(153.96,0.0),(154.96,-0.3),(155.96,-0.07),(156.7,0.69),(157.95,0.81),(158.7,-0.23),(159.45,-0.37),(160.45,-0.14),(162.45,0.16),(163.95,0.08),(164.95,-0.14),(165.95,0.23),(166.94,0.83),(167.7,-0.23),(168.4,-0.37),(168.8,-0.3)]

PANEL_LABELS = ["a) PW01", "b) ECM", "c) PW02", "d) PW03", "e) PW04"]
PANELS = [(A_EXP, A_UX, A_UXM), (B_EXP, B_UX, B_UXM), (C_EXP, C_UX, C_UXM),
          (D_EXP, D_UX, D_UXM), (E_EXP, E_UX, E_UXM)]
XTICKS = [40, 60, 80, 100, 120, 140, 160]
XTICK_TEXT = ["40.0", "60.0", "80.0", "100.0", "120.0", "140.0", "160.0"]
YTICKS_TOP = [-1, 0, 1, 2, 3, 4]
YTICK_TEXT_TOP = ["-1.0", "0.0", "1.0", "2.0", "3.0", "4.0"]
YTICKS = [-1, 0, 1, 2, 3]
YTICK_TEXT = ["-1.0", "0.0", "1.0", "2.0", "3.0"]
SERIES_NAMES = ["EXP", "OF (<i>U</i><sub><i>x</i></sub>)", "OF (<i>U\u0305</i><sub><i>x</i></sub>)"]


def split(points):
    ts, vs = [], []
    for p in points:
        if p is None:
            ts.append(None)
            vs.append(None)
        else:
            ts.append(p[0])
            vs.append(p[1])
    return ts, vs


FONT = "'Liberation Serif', Tinos, 'Times New Roman', 'DejaVu Serif', serif"
AXC = "#333333"

fig = make_subplots(rows=5, cols=1, shared_xaxes=True, vertical_spacing=0)

styles = [
    dict(color="black", width=1.0, dash="1.5px,1.5px", shape="spline", smoothing=0.5),
    dict(color="#ff1010", width=1.3, dash="4px,3px", shape="spline", smoothing=0.5),
    dict(color="#ff1010", width=1.6, dash="solid", shape="spline", smoothing=0.5),
]

for i, series in enumerate(PANELS):
    for j, pts in enumerate(series):
        t, v = split(pts)
        fig.add_trace(go.Scatter(x=t, y=v, mode="lines", line=styles[j],
                                 name=SERIES_NAMES[j], showlegend=(i == 0),
                                 legendrank=j + 1, connectgaps=False,
                                 hoverinfo="skip"),
                      row=i + 1, col=1)

fig.update_xaxes(range=[30, 168.7], tickvals=XTICKS, ticktext=XTICK_TEXT,
                 ticks="inside", ticklen=10, tickwidth=1.2, tickcolor=AXC,
                 showline=True, linecolor=AXC, linewidth=1.3, mirror="ticks",
                 showgrid=False, zeroline=False,
                 tickfont=dict(family=FONT, size=23, color="#222"))
fig.update_xaxes(showticklabels=True, ticklabelstandoff=2, row=5, col=1)

for i in range(5):
    tv = YTICKS_TOP if i == 0 else YTICKS
    tt = YTICK_TEXT_TOP if i == 0 else YTICK_TEXT
    fig.update_yaxes(range=[-1.5, 4.0], tickvals=tv, ticktext=tt,
                     ticks="inside", ticklen=10, tickwidth=1.2, tickcolor=AXC,
                     showline=True, linecolor=AXC, linewidth=1.3, mirror="ticks",
                     showgrid=False, zeroline=False, ticklabelstandoff=5,
                     tickfont=dict(family=FONT, size=23, color="#222"),
                     row=i + 1, col=1)

annotations = []
for i in range(5):
    yref = "y domain" if i == 0 else f"y{i + 1} domain"
    annotations.append(dict(text=PANEL_LABELS[i], xref="paper", yref=yref,
                            x=0.014, y=0.71, xanchor="left", yanchor="middle",
                            showarrow=False,
                            font=dict(family=FONT, size=24, color="black")))
    annotations.append(dict(text="<i>U</i><sub><i>x</i></sub> [m/s]", xref="paper", yref=yref,
                            x=-0.0955, y=0.5, xanchor="left", yanchor="middle",
                            textangle=-90, showarrow=False,
                            font=dict(family=FONT, size=25, color="#222")))
annotations.append(dict(text="<i>t</i> [s]", xref="paper", yref="paper",
                        x=0.5, y=-0.085, xanchor="center", yanchor="middle",
                        showarrow=False, font=dict(family=FONT, size=25, color="#222")))

fig.update_layout(
    width=1112, height=726,
    margin=dict(l=98, r=1, t=58, b=65),
    paper_bgcolor="white", plot_bgcolor="white",
    font=dict(family=FONT, size=22, color="black"),
    annotations=annotations,
    legend=dict(orientation="h", x=0.521, xanchor="center", y=1.0746, yanchor="top",
                bordercolor="black", borderwidth=1, bgcolor="white",
                font=dict(family=FONT, size=24, color="black"),
                itemwidth=84, traceorder="normal"),
)

fig.write_html("out.html")
